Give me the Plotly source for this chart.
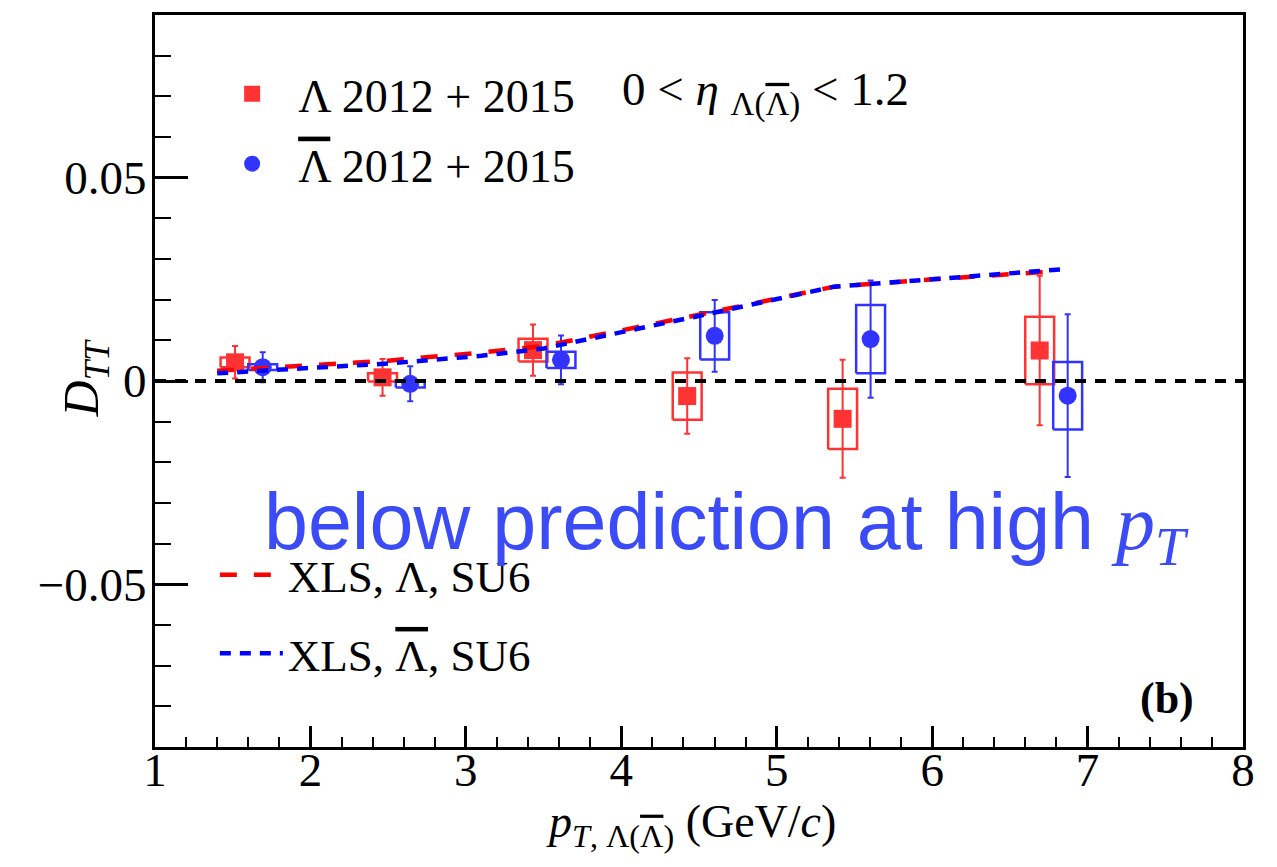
import plotly.graph_objects as go

# Lambda measurements (2012 + 2015)
lam_pt = [1.515, 2.464, 3.432, 4.424, 5.424, 6.692]
lam_dtt = [0.0046, 0.0009, 0.0076, -0.0037, -0.0093, 0.0075]
lam_stat = [0.0040, 0.0045, 0.0063, 0.0093, 0.0145, 0.0184]
lam_sys = [0.0012, 0.0010, 0.0028, 0.0058, 0.0074, 0.0083]

# Anti-Lambda measurements (2012 + 2015)
alam_pt = [1.693, 2.642, 3.612, 4.601, 5.604, 6.872]
alam_dtt = [0.0034, -0.0007, 0.0052, 0.0111, 0.0103, -0.0036]
alam_stat = [0.0037, 0.0043, 0.0060, 0.0088, 0.0144, 0.0200]
alam_sys = [0.0007, 0.0009, 0.0020, 0.0058, 0.0084, 0.0083]

# XLS model predictions (SU6)
xls_lam_pt = [1.40, 2.50, 3.10, 3.50, 4.50, 5.37, 6.00, 6.80]
xls_lam_dtt = [0.0025, 0.0050, 0.0070, 0.0086, 0.0163, 0.0232, 0.0250, 0.0270]
xls_alam_pt = [1.40, 2.50, 3.10, 3.50, 4.50, 5.37, 6.00, 6.88]
xls_alam_dtt = [0.0019, 0.0043, 0.0062, 0.0080, 0.0160, 0.0232, 0.0250, 0.0276]

BOX_HALF = 0.093
RED = "rgb(255,51,51)"
BLUE = "rgb(51,51,255)"
SERIF = "Liberation Serif"
LBAR = "<span style='text-decoration:overline'>Λ</span>"

fig = go.Figure()


def sys_boxes(xs, ys, ss, color):
    bx, by = [], []
    for x, y, s in zip(xs, ys, ss):
        bx += [x - BOX_HALF, x + BOX_HALF, x + BOX_HALF, x - BOX_HALF, x - BOX_HALF, None]
        by += [y - s, y - s, y + s, y + s, y - s, None]
    return go.Scatter(x=bx, y=by, mode="lines", line=dict(color=color, width=2.5),
                      showlegend=False, hoverinfo="skip")


fig.add_trace(sys_boxes(lam_pt, lam_dtt, lam_sys, RED))
fig.add_trace(sys_boxes(alam_pt, alam_dtt, alam_sys, BLUE))

fig.add_trace(go.Scatter(
    x=lam_pt, y=lam_dtt, mode="markers", name="Λ 2012 + 2015",
    marker=dict(symbol="square", size=18, color=RED),
    error_y=dict(type="data", array=lam_stat, color=RED, thickness=2, width=3),
    legend="legend", legendgroup="a"))
fig.add_trace(go.Scatter(
    x=alam_pt, y=alam_dtt, mode="markers", name=LBAR + " 2012 + 2015",
    marker=dict(symbol="circle", size=18, color=BLUE),
    error_y=dict(type="data", array=alam_stat, color=BLUE, thickness=2, width=3),
    legend="legend", legendgroup="b"))

fig.add_hline(y=0, line=dict(color="black", width=4, dash="11px,9px"))

fig.add_trace(go.Scatter(
    x=xls_lam_pt, y=xls_lam_dtt, mode="lines", name="XLS, Λ, SU6",
    line=dict(color="red", width=4.5, dash="17px,17px"),
    legend="legend2", legendgroup="c"))
fig.add_trace(go.Scatter(
    x=xls_alam_pt, y=xls_alam_dtt, mode="lines", name="XLS, " + LBAR + ", SU6",
    line=dict(color="blue", width=4.5, dash="11px,9px"),
    legend="legend2", legendgroup="d"))

axis_common = dict(
    showline=True, linecolor="black", linewidth=3, mirror=True,
    ticks="inside", tickcolor="black", tickwidth=2.5,
    showgrid=False, zeroline=False, automargin=False,
    tickfont=dict(family=SERIF, size=47, color="black"),
)

fig.update_xaxes(
    range=[1, 8], dtick=1, ticklen=21, ticklabelstandoff=-20,
    minor=dict(dtick=0.2, ticklen=10, tickwidth=2, ticks="inside", tickcolor="black", showgrid=False),
    **axis_common)
fig.update_yaxes(
    range=[-0.09, 0.09], dtick=0.05, ticklen=33, ticklabelstandoff=-4,
    minor=dict(dtick=0.01, ticklen=16, tickwidth=2, ticks="inside", tickcolor="black", showgrid=False),
    **axis_common)

# axis titles
fig.add_annotation(
    xref="paper", yref="paper", x=0.493, y=-0.064, xanchor="center", yanchor="top",
    text="<i>p</i><sub><i>T</i>, Λ(" + LBAR + ")</sub> (GeV/<i>c</i>)", showarrow=False,
    font=dict(family=SERIF, size=46, color="black"))
fig.add_annotation(
    xref="paper", yref="paper", x=-0.064, y=0.504, xanchor="center", yanchor="middle",
    textangle=-90, text="<i>D</i><sub><i>TT</i></sub>", showarrow=False,
    font=dict(family=SERIF, size=50, color="black"))

fig.add_annotation(
    xref="paper", yref="paper", x=0.427, y=0.893, xanchor="left", yanchor="middle",
    text="0 < <i>η</i> <sub>Λ(" + LBAR + ")</sub> < 1.2", showarrow=False,
    font=dict(family=SERIF, size=47, color="black"))
fig.add_annotation(
    xref="paper", yref="paper", x=0.098, y=0.300, xanchor="left", yanchor="middle",
    text="below prediction at high <span style='font-family:Liberation Serif;font-size:78px'><i>p</i><sub><i>T</i></sub></span>",
    showarrow=False, font=dict(family="Liberation Sans", size=79, color="rgb(59,75,245)"))
fig.add_annotation(
    xref="paper", yref="paper", x=0.957, y=0.066, xanchor="right", yanchor="middle",
    text="<b>(b)</b>", showarrow=False,
    font=dict(family=SERIF, size=44, color="black"))

fig.update_layout(
    width=1277, height=867,
    margin=dict(l=155, r=34, t=15, b=120),
    paper_bgcolor="white", plot_bgcolor="white",
    showlegend=True,
    legend=dict(x=0.047, y=0.942, xanchor="left", yanchor="top",
                font=dict(family=SERIF, size=46, color="black"),
                bgcolor="rgba(0,0,0,0)", itemwidth=82, tracegroupgap=7,
                traceorder="grouped"),
    legend2=dict(x=0.055, y=0.284, xanchor="left", yanchor="top",
                 font=dict(family=SERIF, size=45, color="black"),
                 bgcolor="rgba(0,0,0,0)", itemwidth=63, tracegroupgap=17,
                 traceorder="grouped"),
)

fig.write_html("out.html")
